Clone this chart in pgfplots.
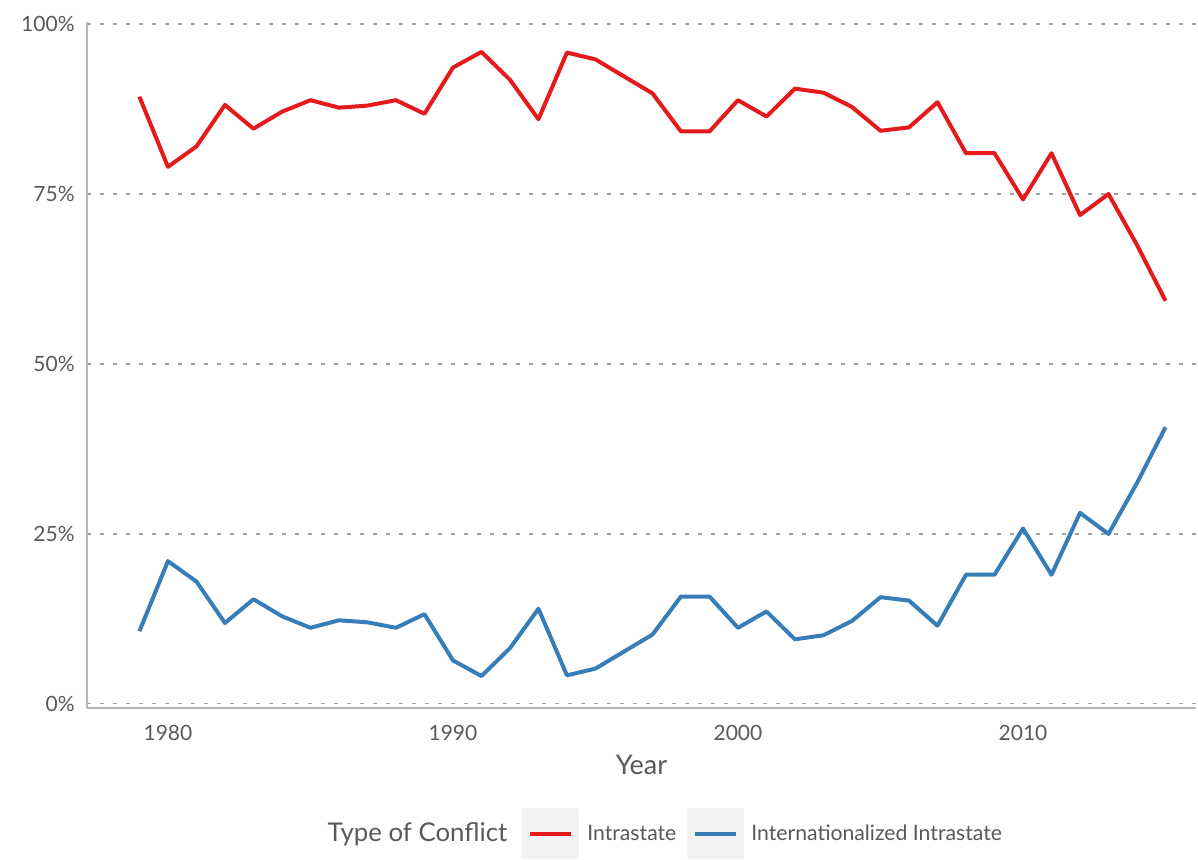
\documentclass[border=0pt]{standalone}
\usepackage{pgfplots}
\pgfplotsset{compat=1.18}
\usepackage{pgfplotstable}
\usepackage{fontspec}
\setmainfont{Lato}

\definecolor{intra}{HTML}{E41A1C}
\definecolor{inter}{HTML}{377EB8}
\definecolor{txt}{HTML}{595959}
\definecolor{axgray}{HTML}{B4B4B4}
\definecolor{gridgray}{HTML}{A0A0A0}
\definecolor{legbg}{HTML}{F2F2F2}

% share of conflicts by type, per year
\pgfplotstableread{
year intra inter
1979 89.3 10.7
1980 79.0 21.0
1981 82.0 18.0
1982 88.1 11.9
1983 84.6 15.4
1984 87.1 12.9
1985 88.8 11.2
1986 87.7 12.3
1987 88.0 12.0
1988 88.8 11.2
1989 86.8 13.2
1990 93.6 6.4
1991 95.9 4.1
1992 91.8 8.2
1993 86.0 14.0
1994 95.8 4.2
1995 94.8 5.2
1996 92.3 7.7
1997 89.8 10.2
1998 84.2 15.8
1999 84.2 15.8
2000 88.8 11.2
2001 86.4 13.6
2002 90.5 9.5
2003 89.9 10.1
2004 87.8 12.2
2005 84.3 15.7
2006 84.8 15.2
2007 88.5 11.5
2008 81.0 19.0
2009 81.0 19.0
2010 74.2 25.8
2011 81.0 19.0
2012 71.9 28.1
2013 75.0 25.0
2014 67.5 32.5
2015 59.3 40.7
}\share

\begin{document}
\begin{tikzpicture}
\begin{axis}[
    name=ax,
    width=554.5pt, height=343pt, scale only axis,
    xmin=1977.16, xmax=2016.07,
    ymin=-0.6, ymax=100.3,
    axis lines*=left,
    axis line style={-, draw=axgray, line width=0.8pt},
    xtick={1980,1990,2000,2010},
    ytick={0,25,50,75,100},
    major tick length=0pt,
    ymajorgrids,
    grid style={gridgray, line width=0.55pt, dash pattern=on 2pt off 4.5pt},
    /pgf/number format/assume math mode=true,
    /pgf/number format/1000 sep={},
    yticklabel={\pgfmathprintnumber{\tick}\%},
    ticklabel style={font=\fontsize{10.5}{12}\selectfont, text=txt},
    yticklabel style={inner xsep=0pt, xshift=-6pt},
    xticklabel style={inner ysep=0pt, yshift=-8.5pt},
    xlabel={Year},
    xlabel style={font=\fontsize{13.5}{15}\selectfont, text=txt, yshift=-3.5pt},
    legend style={at={(0.521,-0.2213)}, anchor=south, draw=none, fill=none,
        inner sep=0pt, font=\fontsize{10.6}{12}\selectfont, text=txt,
        /tikz/every even column/.append style={column sep=0pt}},
    legend columns=-1,
    legend image code/.code={
        \fill[legbg] (0pt,-11.75pt) rectangle (26.5pt,11.75pt);
        \draw[#1] (3pt,0pt) -- (23.5pt,0pt);
    },
]
\addlegendimage{legend image code/.code={}}
\addlegendentry{\fontsize{12.9}{15}\selectfont Type of Conflict\hspace{5.5pt}\null}
\addplot[intra, line width=2pt, line join=round] table[x=year, y=intra] {\share};
\addlegendentry{\hspace{2pt}Intrastate\hspace{3.5pt}\null}
\addplot[inter, line width=2pt, line join=round] table[x=year, y=inter] {\share};
\addlegendentry{\hspace{1.5pt}Internationalized Intrastate}
\end{axis}
\path[use as bounding box] ([xshift=-43.5pt,yshift=-73.5pt]ax.south west)
    rectangle ([xshift=1pt,yshift=11pt]ax.north east);
\end{tikzpicture}
\end{document}
